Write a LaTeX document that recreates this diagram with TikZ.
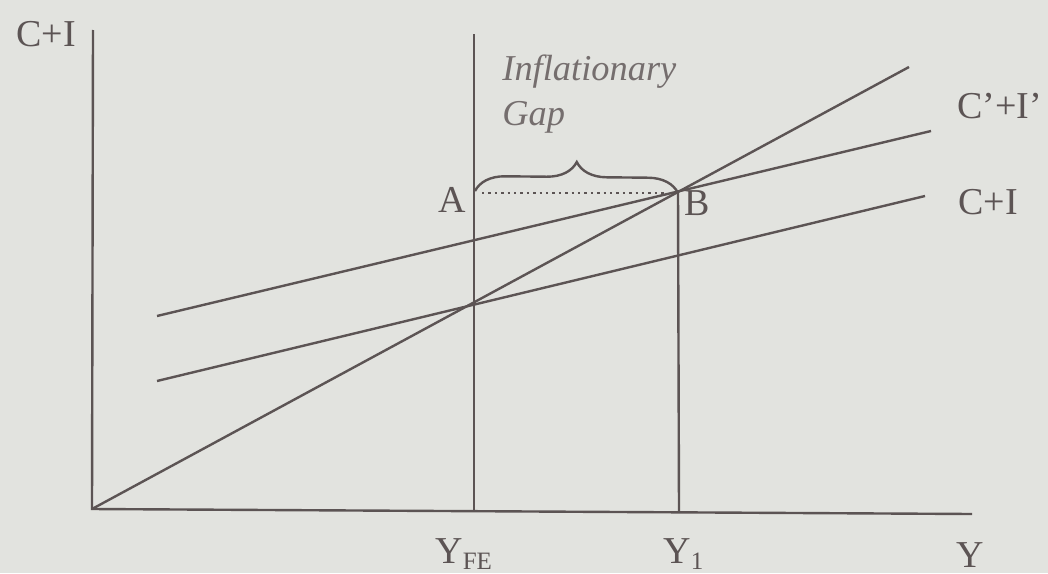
\documentclass[tikz,border=0pt]{standalone}
\usepackage{fontspec}
\setmainfont{Liberation Serif}
\usetikzlibrary{positioning, calc, decorations.pathreplacing}
\definecolor{InkGray}{RGB}{92, 84, 84}
\definecolor{PaperBg}{RGB}{226, 227, 223}
\newcommand{\lowsub}[1]{\raisebox{-3pt}{\fontsize{12.5}{12.5}\selectfont #1}}

\begin{document}
\begin{tikzpicture}[x=0.5pt, y=-0.5pt,
    curve/.style={InkGray, line width=1.2pt},
    lbl/.style={text=InkGray, inner sep=0pt, font=\fontsize{19}{22}\selectfont},
    gaplbl/.style={text=InkGray!85, inner sep=0pt, font=\fontsize{18.2}{21}\selectfont\itshape}]
      \fill[PaperBg] (0,0) rectangle (1048,573);
      \useasboundingbox (0,0) rectangle (1048,573);

      % Points
      \coordinate (O) at (92,509);
      \coordinate (yTop) at (93,30);
      \coordinate (xEnd) at (972,514);
      \coordinate (feTop) at (474,34);
      \coordinate (feBot) at (474,511);
      \coordinate (B) at (678,193);
      \coordinate (oneBot) at (679,512);
      \coordinate (diagEnd) at (909,67);
      \coordinate (ciStart) at (157,381);
      \coordinate (ciEnd) at (925,196);
      \coordinate (cipStart) at (157,316);
      \coordinate (cipEnd) at (931,131);
      \coordinate (dotStart) at (482,193);
      \coordinate (dotEnd) at (664,193);
      \coordinate (braceL) at (475,191);

      % Lines
      \draw[curve] (yTop) -- (O) -- (xEnd);
      \draw[curve] (feTop) -- (feBot);
      \draw[curve] (B) -- (oneBot);
      \draw[curve] (O) -- (diagEnd);
      \draw[curve] (ciStart) -- (ciEnd);
      \draw[curve] (cipStart) -- (cipEnd);
      \draw[curve, dotted, line width=0.8pt] (dotStart) -- (dotEnd);
      \draw[curve, decorate, decoration={brace, amplitude=15pt}] (braceL) -- (B);

      % Nodes
      \node[lbl] (yLabel) at (46,34) {C+I};
      \node[gaplbl, anchor=base west] (gapA) at (502,80) {Inflationary};
      \node[gaplbl, anchor=base west] (gapB) at (502,125) {Gap};
      \node[lbl] (aLabel) at (452,200) {A};
      \node[lbl] (bLabel) at (697,203) {B};
      \node[lbl, anchor=west] (cipLabel) at (957,106) {C'+I'};
      \node[lbl, anchor=west] (ciLabel) at (958,202) {C+I};
      \node[lbl, anchor=base west] (feLabel) at (435,563) {Y\lowsub{FE}};
      \node[lbl, anchor=base west] (oneLabel) at (663,563) {Y\lowsub{1}};
      \node[lbl, anchor=base] (xLabel) at (970,567) {Y};
    \end{tikzpicture}
\end{document}
